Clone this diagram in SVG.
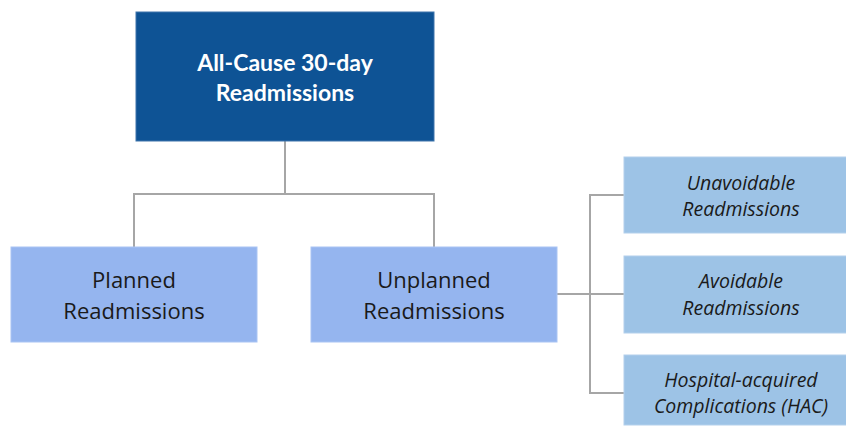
<svg xmlns="http://www.w3.org/2000/svg" width="846" height="426" viewBox="0 0 846 426">
<style>
.top{fill:#0E5395;stroke:#3E74AB;stroke-width:1}
.mid{fill:#95B5EF;stroke:#A9C4F3;stroke-width:1}
.side{fill:#9DC3E6;stroke:#B3D0EC;stroke-width:1}
.conn{fill:none;stroke:#A6A6A6;stroke-width:2}
text{font-family:Lato,"Open Sans","Liberation Sans",sans-serif;text-anchor:middle}
.tt{fill:#FFFFFF;font-weight:bold;font-size:23px}
.mt{fill:#1A1A1A;font-size:22px;font-family:"Open Sans","Liberation Sans",sans-serif}
.st{fill:#1A1A1A;font-size:19.5px;font-style:italic;font-family:"Open Sans","Liberation Sans",sans-serif}
</style>
<rect width="846" height="426" fill="#FFFFFF"/>
<g id="connectors">
<path class="conn" d="M285,141 V194 M134,247 V194 H434 V247"/>
<path class="conn" d="M557,294 H624 M624,195 H590 V393 H624"/>
</g>
<g id="all-cause">
<rect class="top" x="136" y="12" width="298" height="129"/>
<text class="tt" x="285" y="71">All-Cause 30-day</text>
<text class="tt" x="285" y="101">Readmissions</text>
</g>
<g id="planned">
<rect class="mid" x="11" y="247" width="246" height="95"/>
<text class="mt" x="134" y="288">Planned</text>
<text class="mt" x="134" y="319">Readmissions</text>
</g>
<g id="unplanned">
<rect class="mid" x="311" y="247" width="246" height="95"/>
<text class="mt" x="434" y="288">Unplanned</text>
<text class="mt" x="434" y="319">Readmissions</text>
</g>
<g id="unavoidable">
<rect class="side" x="624" y="157" width="240" height="76"/>
<text class="st" x="741" y="190">Unavoidable</text>
<text class="st" x="741" y="216">Readmissions</text>
</g>
<g id="avoidable">
<rect class="side" x="624" y="256" width="240" height="77"/>
<text class="st" x="741" y="288">Avoidable</text>
<text class="st" x="741" y="315">Readmissions</text>
</g>
<g id="hac">
<rect class="side" x="624" y="355" width="240" height="70"/>
<text class="st" x="741" y="387">Hospital-acquired</text>
<text class="st" x="741" y="413">Complications (HAC)</text>
</g>
</svg>
